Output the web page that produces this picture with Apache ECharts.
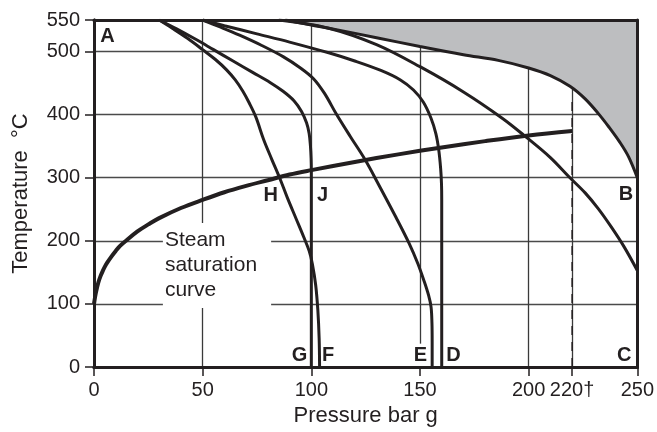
<!DOCTYPE html>
<html><head><meta charset="utf-8">
<script src="https://cdn.jsdelivr.net/npm/echarts@6/dist/echarts.min.js"></script>
<style>html,body{margin:0;padding:0;background:#fff}#c{width:657px;height:432px}</style>
</head><body><div id="c"></div>
<script>
// ---- data (pressure bar g, temperature °C) ----
const pressureTicks = [0, 50, 100, 150, 200, 220, 250];
const temperatureTicks = [0, 100, 200, 300, 400, 500, 550];

const satPressure = [0, 0.5, 1, 2, 3, 4, 5, 6, 8, 10, 12, 15, 20, 25, 30, 40, 50, 60, 70, 80, 90, 100, 120, 140, 160, 180, 200, 220];
const satTemperature = [100, 111, 120, 134, 144, 152, 159, 165, 175, 184, 192, 201, 215, 226, 236, 252, 265, 277, 287, 296, 305, 312, 325, 337, 348, 358, 367, 374];

const boundaryAB = [[88,550],[100,542],[108,537],[130,522],[150,508],[170,495],[186,486],[200,474],[210,462],[219,445],[226,425],[232,402],[237,380],[242,356],[246,333],[250,300]];
const curveC = [[85,550],[108,537],[130,511],[150,476],[170,436],[188,394],[199,364],[210,332],[219,300],[226,276],[232,251],[238,222],[244,190],[250,153]];
const curveD = [[50,550],[60,541],[75,528],[90,515],[108,498],[120,485],[132,470],[141,455],[147,439],[151.5,420],[155,395],[157.3,370],[158.6,345],[159.5,315],[159.9,290],[160,265],[160,0]];
const curveE = [[50,550],[58,539],[67,526],[77,510],[87,492],[95,474],[101,457],[106,434],[111.5,401],[118,365],[124.5,330],[131,289],[139,237],[145,196],[149,164],[152,135],[154,113],[155.1,95],[155.5,70],[155.6,40],[155.6,0]];
const curveJG = [[30,550],[38,536],[47,519],[55,503],[64,485],[73,467],[81,451],[87,437],[92,422],[95.5,405],[97.8,387],[99,370],[99.6,350],[99.9,330],[100,310],[100,0]];
const curveHF = [[30,550],[36,537],[43,521],[50,503],[56,487],[61,471],[65,455],[68.5,437],[71.5,418],[74.5,396],[78,361],[81.7,330],[85.4,300],[89,268],[93,235],[96.5,206],[99,184],[100.5,163],[102,130],[103,90],[103.6,45],[103.8,0]];
const criticalLine = [[220,0],[220,425]];

const markerNames = ['A','B','C','D','E','F','G','H','J'];
const markerPressure = [6.2, 244.8, 244, 165.4, 150.2, 107.7, 94.6, 81.3, 105.2];
const markerTemperature = [524, 273, 18, 18, 18, 18, 18, 272, 272];
const noteText = 'Steam\nsaturation\ncurve';
const notePoint = [31.7, 161];

// ---- chart ----
const INK = '#231f20';
const FONT = '"Liberation Sans", Arial, Helvetica, sans-serif';
const chart = echarts.init(document.getElementById('c'), null, {renderer: 'canvas'});

const curveSeries = (data, w) => ({
  type: 'line', data: data, showSymbol: false, symbol: 'none', smooth: 0.35,
  lineStyle: {color: INK, width: w}, silent: true, z: 3
});
const frameAxis = (pos, max) => ({
  type: 'value', min: 0, max: max, position: pos, z: 10,
  axisLine: {show: true, onZero: false, lineStyle: {color: INK, width: 3}},
  axisTick: {show: false}, axisLabel: {show: false}, splitLine: {show: false}
});

const option = {
  animation: false,
  backgroundColor: '#fff',
  textStyle: {fontFamily: FONT, color: INK},
  grid: {left: 94, right: 19, top: 20, bottom: 63, containLabel: false},
  xAxis: [{
    type: 'value', min: 0, max: 250, interval: 50,
    name: 'Pressure bar g', nameLocation: 'middle', nameGap: 38,
    nameTextStyle: {fontSize: 22, color: INK, fontFamily: FONT},
    axisLine: {show: true, onZero: false, lineStyle: {color: INK, width: 3}},
    axisTick: {show: true, length: 9, customValues: pressureTicks, lineStyle: {color: INK, width: 1.5}},
    axisLabel: {fontSize: 20, color: INK, margin: 13, fontFamily: FONT, customValues: pressureTicks,
      formatter: v => v === 220 ? '220\u2020' : String(v)},
    splitLine: {show: true, lineStyle: {color: '#3a3a3a', width: 1.3}}
  }, frameAxis('top', 250), frameAxis('bottom', 250)],
  yAxis: [{
    type: 'value', min: 0, max: 550, interval: 100,
    name: 'Temperature  \u00B0C', nameLocation: 'middle', nameGap: 62,
    nameTextStyle: {fontSize: 22, color: INK, fontFamily: FONT},
    axisLine: {show: true, onZero: false, lineStyle: {color: INK, width: 3}},
    axisTick: {show: true, length: 9, customValues: temperatureTicks, lineStyle: {color: INK, width: 1.5}},
    axisLabel: {fontSize: 20, color: INK, margin: 14, fontFamily: FONT, customValues: temperatureTicks},
    splitLine: {show: true, lineStyle: {color: '#4a4a4a', width: 1.3}}
  }, frameAxis('right', 550), frameAxis('left', 550)],
  series: [
    {
      type: 'line', data: boundaryAB, showSymbol: false, symbol: 'none', smooth: 0.35, silent: true, z: 2,
      lineStyle: {color: INK, width: 3},
      areaStyle: {origin: 'end', color: '#bdbec0', opacity: 1}
    },
    {
      type: 'scatter', silent: true, z: 1, symbol: 'rect', symbolSize: 1,
      itemStyle: {color: 'rgba(255,255,255,0)', opacity: 1},
      data: markerNames.map((n, i) => ({name: n, value: [markerPressure[i], markerTemperature[i]]})),
      label: {show: true, position: 'inside', formatter: '{b}', fontSize: 20, fontWeight: 'bold',
        color: INK, opacity: 1, textBorderWidth: 0, fontFamily: FONT, backgroundColor: '#fff', padding: [2, 2]}
    },
    {
      type: 'scatter', silent: true, z: 1, symbol: 'rect', symbolSize: 1,
      itemStyle: {color: 'rgba(255,255,255,0)', opacity: 1},
      data: [{name: noteText, value: notePoint}],
      label: {show: true, position: 'inside', align: 'left', verticalAlign: 'middle', formatter: '{b}',
        fontSize: 21, lineHeight: 25, color: INK, opacity: 1, textBorderWidth: 0, fontFamily: FONT,
        backgroundColor: '#fff', padding: [2, 14, 8, 2]}
    },
    curveSeries(curveC, 3),
    curveSeries(curveD, 3),
    curveSeries(curveE, 3),
    curveSeries(curveJG, 3),
    curveSeries(curveHF, 3),
    curveSeries(satPressure.map((p, i) => [p, satTemperature[i]]), 4),
    {
      type: 'line', data: criticalLine, showSymbol: false, symbol: 'none', silent: true, z: 3,
      lineStyle: {color: INK, width: 1.5, type: [9, 7]}
    }
  ]
};
chart.setOption(option);
</script>
</body></html>
